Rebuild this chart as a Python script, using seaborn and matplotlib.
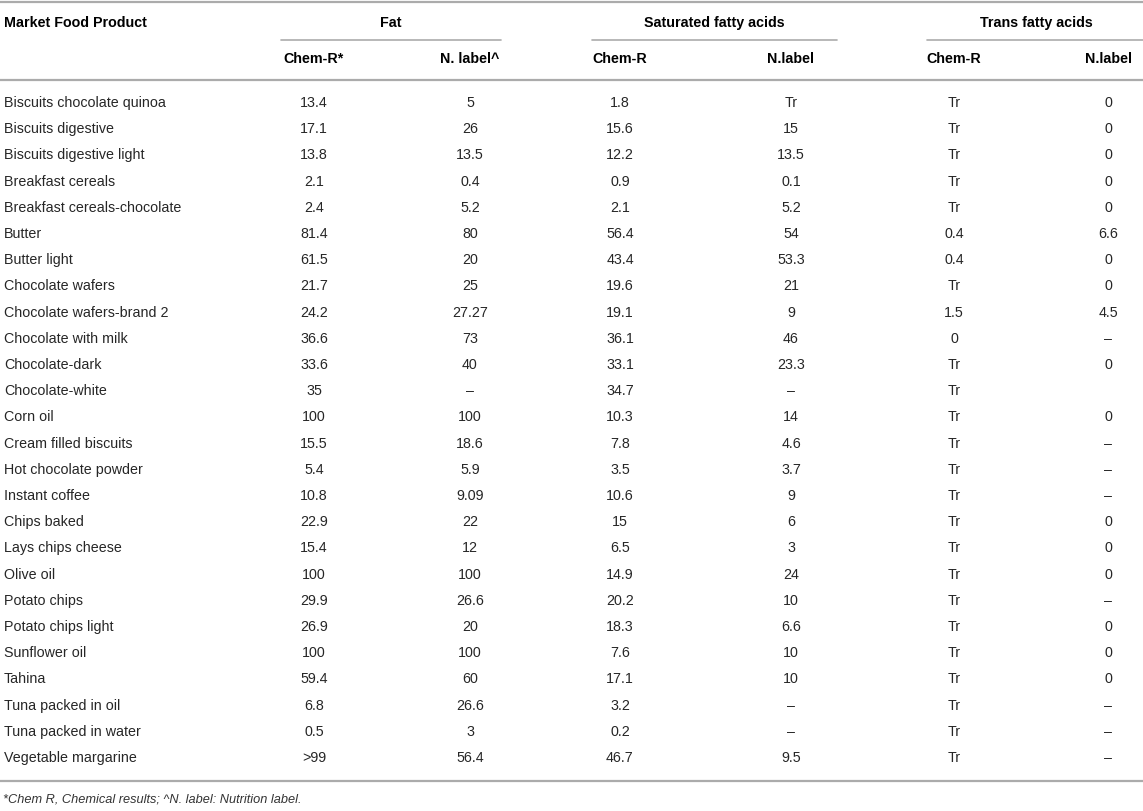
import matplotlib
matplotlib.use("Agg")
import matplotlib.pyplot as plt
import seaborn as sns

sns.set_theme(style="white")
plt.rcParams['font.family'] = ['Liberation Sans', 'DejaVu Sans']

# table content
products = [
    "Biscuits chocolate quinoa", "Biscuits digestive", "Biscuits digestive light",
    "Breakfast cereals", "Breakfast cereals-chocolate", "Butter", "Butter light",
    "Chocolate wafers", "Chocolate wafers-brand 2", "Chocolate with milk",
    "Chocolate-dark", "Chocolate-white", "Corn oil", "Cream filled biscuits",
    "Hot chocolate powder", "Instant coffee", "Chips baked", "Lays chips cheese",
    "Olive oil", "Potato chips", "Potato chips light", "Sunflower oil", "Tahina",
    "Tuna packed in oil", "Tuna packed in water", "Vegetable margarine",
]
fat_chem = ["13.4", "17.1", "13.8", "2.1", "2.4", "81.4", "61.5", "21.7", "24.2", "36.6",
            "33.6", "35", "100", "15.5", "5.4", "10.8", "22.9", "15.4", "100", "29.9",
            "26.9", "100", "59.4", "6.8", "0.5", ">99"]
fat_label = ["5", "26", "13.5", "0.4", "5.2", "80", "20", "25", "27.27", "73",
             "40", "–", "100", "18.6", "5.9", "9.09", "22", "12", "100", "26.6",
             "20", "100", "60", "26.6", "3", "56.4"]
sat_chem = ["1.8", "15.6", "12.2", "0.9", "2.1", "56.4", "43.4", "19.6", "19.1", "36.1",
            "33.1", "34.7", "10.3", "7.8", "3.5", "10.6", "15", "6.5", "14.9", "20.2",
            "18.3", "7.6", "17.1", "3.2", "0.2", "46.7"]
sat_label = ["Tr", "15", "13.5", "0.1", "5.2", "54", "53.3", "21", "9", "46",
             "23.3", "–", "14", "4.6", "3.7", "9", "6", "3", "24", "10",
             "6.6", "10", "10", "–", "–", "9.5"]
trans_chem = ["Tr", "Tr", "Tr", "Tr", "Tr", "0.4", "0.4", "Tr", "1.5", "0",
              "Tr", "Tr", "Tr", "Tr", "Tr", "Tr", "Tr", "Tr", "Tr", "Tr",
              "Tr", "Tr", "Tr", "Tr", "Tr", "Tr"]
trans_label = ["0", "0", "0", "0", "0", "6.6", "0", "0", "4.5", "–",
               "0", "", "0", "–", "–", "–", "0", "0", "0", "–",
               "0", "0", "0", "–", "–", "–"]

groups = ["Fat", "Saturated fatty acids", "Trans fatty acids"]
sub_headers = ["Chem-R*", "N. label^", "Chem-R", "N.label", "Chem-R", "N.label"]
footnote = "*Chem R, Chemical results; ^N. label: Nutrition label."

# layout (pixel units)
W, H = 1143, 812
col_x = [314, 470, 620, 791, 954, 1108]
group_spans = [(281, 501), (592, 837), (927, 1143)]
group_cx = [391, 714, 1036]
row_y0, row_dy = 103, 26.2
line_c = "#ababab"
txt_c = "#262626"
fs = 10.3

fig = plt.figure(figsize=(W / 100, H / 100), dpi=100)
ax = fig.add_axes([0, 0, 1, 1])
ax.set_xlim(0, W)
ax.set_ylim(H, 0)
ax.axis("off")

# rules
ax.plot([0, W], [3, 3], color=line_c, lw=1.6)
ax.plot([0, W], [81, 81], color=line_c, lw=1.6)
for x0, x1 in group_spans:
    ax.plot([x0, x1], [41, 41], color=line_c, lw=1.2)

# headers
ax.text(4, 23, "Market Food Product", ha="left", va="center", fontsize=fs,
        fontweight="bold", color="black")
for g, cx in zip(groups, group_cx):
    ax.text(cx, 23, g, ha="center", va="center", fontsize=fs, fontweight="bold", color="black")
for s, x in zip(sub_headers, col_x):
    ax.text(x, 59, s, ha="center", va="center", fontsize=fs, fontweight="bold", color="black")

# body
columns = [fat_chem, fat_label, sat_chem, sat_label, trans_chem, trans_label]
for i, name in enumerate(products):
    y = row_y0 + i * row_dy
    ax.text(4, y, name, ha="left", va="center", fontsize=fs, color=txt_c)
    for vals, x in zip(columns, col_x):
        ax.text(x, y, vals[i], ha="center", va="center", fontsize=fs, color=txt_c)

last_y = row_y0 + (len(products) - 1) * row_dy
ax.plot([0, W], [last_y + 24, last_y + 24], color=line_c, lw=1.6)
ax.text(3, last_y + 42, footnote, ha="left", va="center", fontsize=9.2,
        style="italic", color="#333333")

fig.savefig("out.png", dpi=100)
